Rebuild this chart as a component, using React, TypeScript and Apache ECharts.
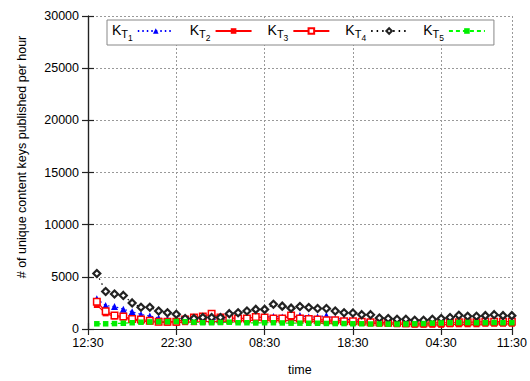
import React, { useEffect, useRef } from "react";
import * as echarts from "echarts";

const hours = [1, 2, 3, 4, 5, 6, 7, 8, 9, 10, 11, 12, 13, 14, 15, 16, 17, 18, 19, 20, 21, 22, 23, 24, 25, 26, 27, 28, 29, 30, 31, 32, 33, 34, 35, 36, 37, 38, 39, 40, 41, 42, 43, 44, 45, 46, 47, 48];

const kT1 = [2900, 2250, 2150, 1900, 1650, 1400, 1250, 1050, 950, 850, 800, 750, 800, 900, 900, 1000, 1000, 1100, 1100, 1150, 1200, 1150, 1100, 1300, 1150, 1150, 1300, 1000, 950, 900, 850, 850, 750, 700, 650, 650, 600, 600, 650, 650, 700, 700, 750, 750, 800, 800, 800, 800];
const kT2 = [2300, 1500, 1200, 1100, 850, 750, 700, 650, 600, 600, 650, 650, 700, 700, 700, 750, 800, 800, 850, 850, 850, 800, 800, 800, 750, 700, 700, 650, 650, 600, 600, 550, 500, 500, 450, 450, 400, 400, 400, 400, 450, 450, 450, 450, 500, 500, 500, 500];
const kT3 = [2600, 1700, 1300, 1200, 950, 900, 800, 700, 700, 700, 900, 1100, 1200, 1450, 1100, 1100, 1000, 1000, 1150, 1100, 1000, 1000, 1300, 1000, 950, 900, 850, 850, 750, 750, 700, 650, 650, 600, 600, 550, 550, 550, 600, 600, 600, 650, 650, 650, 700, 700, 700, 700];
const kT4 = [5320, 3590, 3350, 3220, 2500, 2090, 2090, 1720, 1560, 1410, 1000, 1000, 1100, 1100, 1100, 1470, 1560, 1720, 1880, 1880, 2370, 2190, 2000, 2160, 2060, 1970, 1970, 1720, 1560, 1530, 1375, 1375, 1060, 1000, 940, 940, 840, 840, 940, 1000, 1100, 1310, 1220, 1220, 1280, 1375, 1280, 1280];
const kT5 = [500, 500, 520, 550, 600, 650, 680, 700, 700, 720, 700, 650, 600, 600, 620, 650, 600, 600, 580, 600, 600, 580, 560, 560, 550, 550, 530, 520, 520, 500, 500, 480, 480, 470, 470, 480, 500, 520, 560, 580, 600, 620, 620, 600, 600, 620, 600, 600];

const seriesNames = ["K_T1", "K_T2", "K_T3", "K_T4", "K_T5"];
const xTickValues = [0, 10, 20, 30, 40, 48];
const xTickLabels = ["12:30", "22:30", "08:30", "18:30", "04:30", "11:30"];
const yTicks = [0, 5000, 10000, 15000, 20000, 25000, 30000];

const FONT = "Liberation Sans, Arial, sans-serif";

function pairs(vals: number[]) {
  return vals.map((v, i) => [hours[i], v]);
}

export default function App() {
  const ref = useRef<HTMLDivElement>(null);
  useEffect(() => {
    if (!ref.current) return;
    document.body.style.margin = "0";
    const chart = echarts.init(ref.current, null, { renderer: "svg", width: 530, height: 381 });
    const axisLine = { show: true, lineStyle: { color: "#222", width: 1.2 } };
    const tick = { show: true, inside: true, length: 6, lineStyle: { color: "#222", width: 1.2 } };
    const split = { show: true, lineStyle: { color: "#999", type: [2, 2] as any, width: 1 } };
    const labelStyle = { fontFamily: FONT, fontSize: 12.5, color: "#000" };
    chart.setOption({
      animation: false,
      backgroundColor: "#fff",
      grid: { left: 88, width: 425, top: 16, height: 323, containLabel: false },
      xAxis: [
        {
          type: "value",
          min: 0,
          max: 48,
          interval: 10,
          name: "time",
          nameLocation: "middle",
          nameGap: 34,
          nameTextStyle: { fontFamily: FONT, fontSize: 12.5, color: "#000" },
          axisLine,
          axisTick: tick,
          splitLine: split,
          axisLabel: {
            ...labelStyle,
            margin: 7,
            showMaxLabel: true,
            formatter: (v: number) => {
              const i = xTickValues.indexOf(v);
              return i >= 0 ? xTickLabels[i] : "";
            },
          },
        },
        {
          type: "value",
          min: 0,
          max: 48,
          interval: 10,
          position: "top",
          axisLine,
          axisTick: tick,
          splitLine: { show: false },
          axisLabel: { show: false },
        },
      ],
      yAxis: [
        {
          type: "value",
          min: yTicks[0],
          max: yTicks[yTicks.length - 1],
          interval: 5000,
          axisLine,
          axisTick: tick,
          splitLine: split,
          axisLabel: { ...labelStyle, margin: 9, formatter: (v: number) => String(v) },
        },
        {
          type: "value",
          min: 0,
          max: 30000,
          interval: 5000,
          position: "right",
          axisLine,
          axisTick: tick,
          splitLine: { show: false },
          axisLabel: { show: false },
        },
      ],
      legend: {
        left: 107,
        top: 20,
        orient: "horizontal",
        align: "right",
        backgroundColor: "#fff",
        borderColor: "#888",
        borderWidth: 1,
        borderRadius: 0,
        padding: [3, 8, 3, 5],
        itemGap: 15,
        itemWidth: 36,
        itemHeight: 7,
        data: seriesNames,
        formatter: (name: string) => `{k|K}{t|T}{n|${name.slice(-1)}}`,
        textStyle: {
          fontFamily: FONT,
          color: "#000",
          rich: {
            k: { fontFamily: FONT, fontSize: 14, verticalAlign: "top", lineHeight: 16, padding: [0, 0, 0, 0] },
            t: { fontFamily: FONT, fontSize: 11, verticalAlign: "top", lineHeight: 13, padding: [5, 0, 0, 0] },
            n: { fontFamily: FONT, fontSize: 8.5, verticalAlign: "top", lineHeight: 10, padding: [10, 0, 0, 0] },
          },
        },
      },
      series: [
        {
          name: seriesNames[0],
          type: "line",
          data: pairs(kT1),
          symbol: "triangle",
          symbolSize: 7,
          lineStyle: { color: "#0000ff", width: 1.2, type: [1.5, 3] as any },
          itemStyle: { color: "#0000ff" },
        },
        {
          name: seriesNames[1],
          type: "line",
          data: pairs(kT2),
          symbol: "rect",
          symbolSize: 6,
          lineStyle: { color: "#ff0000", width: 1.2, type: "solid" },
          itemStyle: { color: "#ff0000" },
        },
        {
          name: seriesNames[2],
          type: "line",
          data: pairs(kT3),
          symbol: "rect",
          symbolSize: 6.5,
          lineStyle: { color: "#ff0000", width: 1.2, type: "solid" },
          itemStyle: { color: "#fff", borderColor: "#ff0000", borderWidth: 1.5 },
        },
        {
          name: seriesNames[3],
          type: "line",
          data: pairs(kT4),
          symbol: "diamond",
          symbolSize: 7,
          lineStyle: { color: "#000", width: 1.2, type: [1.5, 4] as any },
          itemStyle: { color: "#fff", borderColor: "#222", borderWidth: 2.2 },
        },
        {
          name: seriesNames[4],
          type: "line",
          data: pairs(kT5),
          symbol: "rect",
          symbolSize: 5.5,
          lineStyle: { color: "#00ff00", width: 1.2, type: [4, 3] as any },
          itemStyle: { color: "#00ee00" },
        },
      ],
      graphic: [
        {
          type: "text",
          x: 22,
          y: 157,
          rotation: Math.PI / 2,
          style: {
            text: "# of unique content keys published per hour",
            fontFamily: FONT,
            fontSize: 12.5,
            fill: "#000",
            align: "center",
            verticalAlign: "middle",
          },
        },
      ],
    });
    return () => chart.dispose();
  }, []);
  return <div ref={ref} style={{ width: 530, height: 381, background: "#fff" }} />;
}
